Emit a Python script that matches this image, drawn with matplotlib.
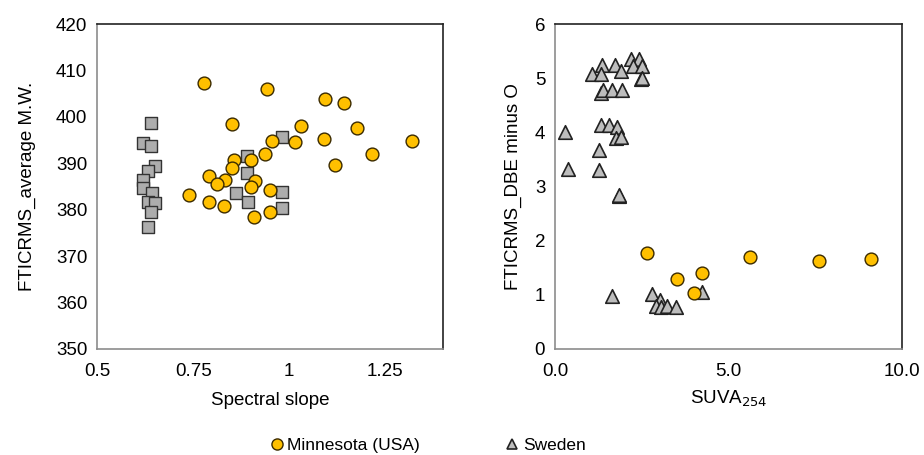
import matplotlib
matplotlib.use("Agg")
import matplotlib.pyplot as plt
from matplotlib.lines import Line2D

plt.rcParams["font.family"] = ["Liberation Sans", "DejaVu Sans"]
plt.rcParams["font.size"] = 13.5

# ── left panel: spectral slope vs average M.W. ──────────────────────────────
mn_slope = [0.778, 0.941, 1.093, 1.142, 0.850, 1.031, 1.175, 1.319, 0.954, 1.015,
            1.090, 1.215, 0.938, 1.119, 0.855, 0.901, 0.850, 0.791, 0.832, 0.811,
            0.911, 0.901, 0.950, 0.740, 0.791, 0.831, 0.950, 0.909]
mn_mw = [407.4, 406.0, 403.9, 403.1, 398.5, 398.1, 397.7, 394.8, 394.9, 394.7,
         395.2, 392.1, 392.0, 389.7, 390.7, 390.7, 389.1, 387.3, 386.5, 385.6,
         386.3, 384.8, 384.2, 383.1, 381.6, 380.9, 379.5, 378.4]
se_slope = [0.640, 0.620, 0.640, 0.651, 0.632, 0.620, 0.620, 0.642, 0.632, 0.651,
            0.640, 0.632, 0.980, 0.890, 0.890, 0.861, 0.892, 0.980, 0.980]
se_mw = [398.7, 394.4, 393.7, 389.4, 388.4, 386.5, 384.6, 383.7, 381.6, 381.4,
         379.5, 376.3, 395.6, 391.5, 388.0, 383.7, 381.7, 383.9, 380.4]

# ── right panel: SUVA254 vs DBE minus O ─────────────────────────────────────
se_suva = [0.28, 0.38, 1.26, 1.26, 1.08, 1.35, 1.32, 1.74, 1.91, 2.20, 2.43, 2.24,
           2.51, 2.47, 2.51, 1.32, 1.38, 1.63, 1.93, 1.32, 1.57, 1.80, 1.76, 1.89,
           1.84, 1.86, 1.65, 2.81, 3.03, 2.91, 3.07, 3.24, 3.49, 4.24]
se_dbe = [4.01, 3.32, 3.67, 3.30, 5.07, 5.24, 5.07, 5.24, 5.14, 5.35, 5.35, 5.22,
          5.22, 4.98, 5.00, 4.73, 4.78, 4.78, 4.78, 4.14, 4.14, 4.10, 3.90, 3.91,
          2.83, 2.84, 0.98, 1.02, 0.90, 0.79, 0.77, 0.79, 0.78, 1.05]
mn_suva = [2.65, 3.53, 4.23, 4.01, 5.61, 7.61, 9.10]
mn_dbe = [1.78, 1.29, 1.40, 1.04, 1.69, 1.62, 1.66]

GOLD, GOLD_EDGE = "#FFC000", "#3a2a00"
GREY, GREY_EDGE = "#ADADAD", "#333333"
TRI, TRI_EDGE = "#BDBDBD", "#222222"


def _frame(ax):
    for side in ("left", "bottom"):
        ax.spines[side].set_color("#8c8c8c")
    for side in ("top", "right"):
        ax.spines[side].set_color("#222222")
    for sp in ax.spines.values():
        sp.set_linewidth(1.2)
    ax.tick_params(axis="x", length=0, pad=10, labelsize=13.5)
    ax.tick_params(axis="y", length=0, pad=7, labelsize=13.5)


fig = plt.figure(figsize=(9.24, 4.55), dpi=100)
ax1 = fig.add_axes([0.105, 0.233, 0.3745, 0.714])
ax2 = fig.add_axes([0.6006, 0.233, 0.3755, 0.714])

ax1.scatter(se_slope, se_mw, marker="s", s=80, c=GREY, edgecolors=GREY_EDGE,
            linewidths=1.0, zorder=3)
ax1.scatter(mn_slope, mn_mw, marker="o", s=85, c=GOLD, edgecolors=GOLD_EDGE,
            linewidths=1.0, zorder=4)
ax1.set_xlim(0.5, 1.4)
ax1.set_ylim(350, 420)
ax1.set_xticks([0.5, 0.75, 1.0, 1.25])
ax1.set_xticklabels(["0.5", "0.75", "1", "1.25"])
ax1.set_yticks(range(350, 421, 10))
ax1.set_xlabel("Spectral slope", labelpad=9)
ax1.set_ylabel("FTICRMS_average M.W.", labelpad=14)
_frame(ax1)

ax2.scatter(se_suva, se_dbe, marker="^", s=95, c=TRI, edgecolors=TRI_EDGE,
            linewidths=1.2, zorder=3)
ax2.scatter(mn_suva, mn_dbe, marker="o", s=85, c=GOLD, edgecolors=GOLD_EDGE,
            linewidths=1.0, zorder=4)
ax2.set_xlim(0, 10)
ax2.set_ylim(0, 6)
ax2.set_xticks([0, 5, 10])
ax2.set_xticklabels(["0.0", "5.0", "10.0"])
ax2.set_yticks(range(0, 7))
ax2.set_xlabel("SUVA$_{254}$", labelpad=6)
ax2.set_ylabel("FTICRMS_DBE minus O", labelpad=9)
_frame(ax2)

h_mn = Line2D([], [], ls="none", marker="o", ms=8, mfc=GOLD, mec=GOLD_EDGE,
              mew=1.0, label="Minnesota (USA)")
h_se = Line2D([], [], ls="none", marker="^", ms=7, mfc=TRI, mec=TRI_EDGE,
              mew=1.2, label="Sweden")
for h, x in ((h_mn, 0.292), (h_se, 0.547)):
    fig.legend(handles=[h], loc="center left", bbox_to_anchor=(x, 0.02),
               frameon=False, borderpad=0, borderaxespad=0, handlelength=0.8,
               handletextpad=0.2, fontsize=12.5)

fig.savefig("out.png", dpi=100)
